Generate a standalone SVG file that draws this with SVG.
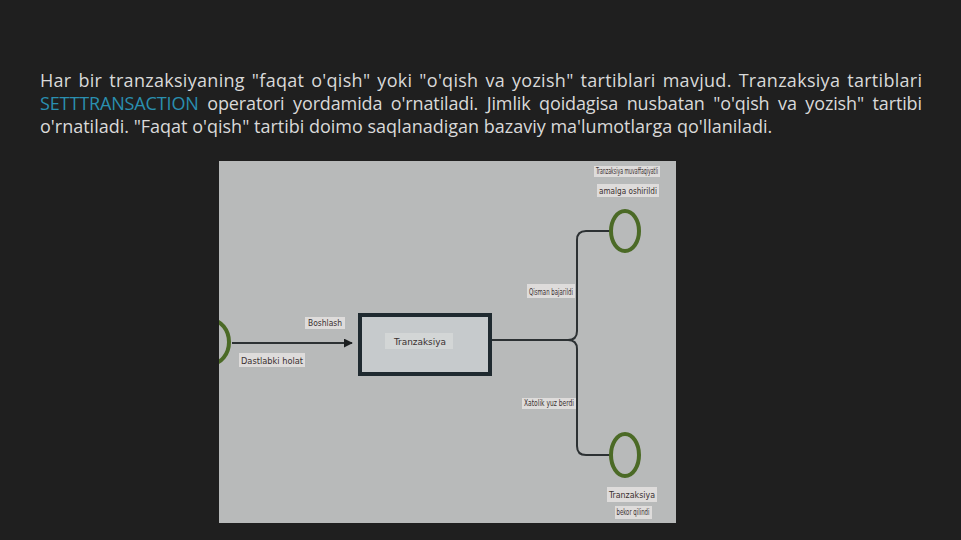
<svg xmlns="http://www.w3.org/2000/svg" width="961" height="540" viewBox="0 0 961 540">
  <defs>
    <style>
      .para { font-family: "Open Sans", "Noto Sans", sans-serif; font-size: 18px; fill: #d9d9d9; }
      .kw { fill: #2a8fb0; }
      .lbl { font-family: "DejaVu Sans Condensed", "Liberation Sans", sans-serif; font-size: 9px; fill: #3a3030; }
      .lblbox { fill: #e4e2e0; opacity: 0.85; }
      .state { fill: none; stroke: #4b6a26; stroke-width: 4; }
      .conn { fill: none; stroke: #2c3133; stroke-width: 2; }
    </style>
    <marker id="arrow" viewBox="0 0 10 10" refX="9" refY="5" markerWidth="4.5" markerHeight="4.5" orient="auto" markerUnits="strokeWidth">
      <path d="M0,0 L10,5 L0,10 z" fill="#1c1f20"/>
    </marker>
    <clipPath id="panel">
      <rect x="219" y="161" width="457" height="362"/>
    </clipPath>
  </defs>

  <rect x="0" y="0" width="961" height="540" fill="#1f1f1f"/>

  <g id="paragraph">
    <text class="para" x="40" y="87" textLength="882" lengthAdjust="spacing" word-spacing="2">Har bir tranzaksiyaning "faqat o'qish" yoki "o'qish va yozish" tartiblari mavjud. Tranzaksiya tartiblari</text>
    <text class="para" x="40" y="110" textLength="882" lengthAdjust="spacing" word-spacing="4"><tspan class="kw">SETTTRANSACTION</tspan> operatori yordamida o'rnatiladi. Jimlik qoidagisa nusbatan "o'qish va yozish" tartibi</text>
    <text class="para" x="40" y="133">o'rnatiladi. "Faqat o'qish" tartibi doimo saqlanadigan bazaviy ma'lumotlarga qo'llaniladi.</text>
  </g>

  <g id="panel-bg">
    <rect x="219" y="161" width="457" height="362" fill="#b8baba"/>
  </g>

  <g clip-path="url(#panel)">
    <g id="connectors">
      <line class="conn" x1="232" y1="343" x2="352" y2="343" marker-end="url(#arrow)"/>
      <path class="conn" d="M490,340 L568,340 Q577,340 577,331 L577,240 Q577,231 586,231 L610,231"/>
      <path class="conn" d="M568,340 Q577,340 577,349 L577,446 Q577,455 586,455 L610,455"/>
    </g>

    <g id="node-start">
      <ellipse class="state" cx="211" cy="342" rx="18" ry="22"/>
      <rect class="lblbox" x="239" y="353" width="66" height="14"/>
      <text class="lbl" x="272" y="364" text-anchor="middle" textLength="62" lengthAdjust="spacingAndGlyphs">Dastlabki holat</text>
    </g>

    <g id="label-arrow">
      <rect class="lblbox" x="305" y="317" width="40" height="12"/>
      <text class="lbl" x="325" y="326" text-anchor="middle" font-size="7" textLength="34" lengthAdjust="spacingAndGlyphs">Boshlash</text>
    </g>

    <g id="node-tranzaksiya">
      <rect x="360" y="315" width="130" height="59" fill="#c6cacc" stroke="#1f2a30" stroke-width="4"/>
      <rect x="385" y="333" width="68" height="16" fill="#d6d8d8" opacity="0.8"/>
      <text class="lbl" x="420" y="345" text-anchor="middle" font-size="11" textLength="52" lengthAdjust="spacingAndGlyphs">Tranzaksiya</text>
    </g>

    <g id="label-upper">
      <rect class="lblbox" x="527" y="284" width="48" height="14"/>
      <text class="lbl" x="551" y="295" text-anchor="middle" textLength="44" lengthAdjust="spacingAndGlyphs">Qisman bajarildi</text>
    </g>

    <g id="label-lower">
      <rect class="lblbox" x="522" y="398" width="54" height="11"/>
      <text class="lbl" x="549" y="406" text-anchor="middle" font-size="7" textLength="50" lengthAdjust="spacingAndGlyphs">Xatolik yuz berdi</text>
    </g>

    <g id="node-success">
      <ellipse class="state" cx="625" cy="231" rx="14" ry="20"/>
      <rect class="lblbox" x="594" y="166" width="66" height="11"/>
      <text class="lbl" x="627" y="174" text-anchor="middle" font-size="7" textLength="62" lengthAdjust="spacingAndGlyphs">Tranzaksiya muvaffaqiyatli</text>
      <rect class="lblbox" x="597" y="184" width="62" height="13"/>
      <text class="lbl" x="628" y="194" text-anchor="middle" textLength="58" lengthAdjust="spacingAndGlyphs">amalga oshirildi</text>
    </g>

    <g id="node-fail">
      <ellipse class="state" cx="625" cy="455" rx="14" ry="21"/>
      <rect class="lblbox" x="607" y="487" width="50" height="15"/>
      <text class="lbl" x="632" y="498" text-anchor="middle" font-size="10" textLength="46" lengthAdjust="spacingAndGlyphs">Tranzaksiya</text>
      <rect class="lblbox" x="615" y="506" width="37" height="13"/>
      <text class="lbl" x="633" y="515" text-anchor="middle" font-size="7" textLength="33" lengthAdjust="spacingAndGlyphs">bekor qilindi</text>
    </g>
  </g>
</svg>
